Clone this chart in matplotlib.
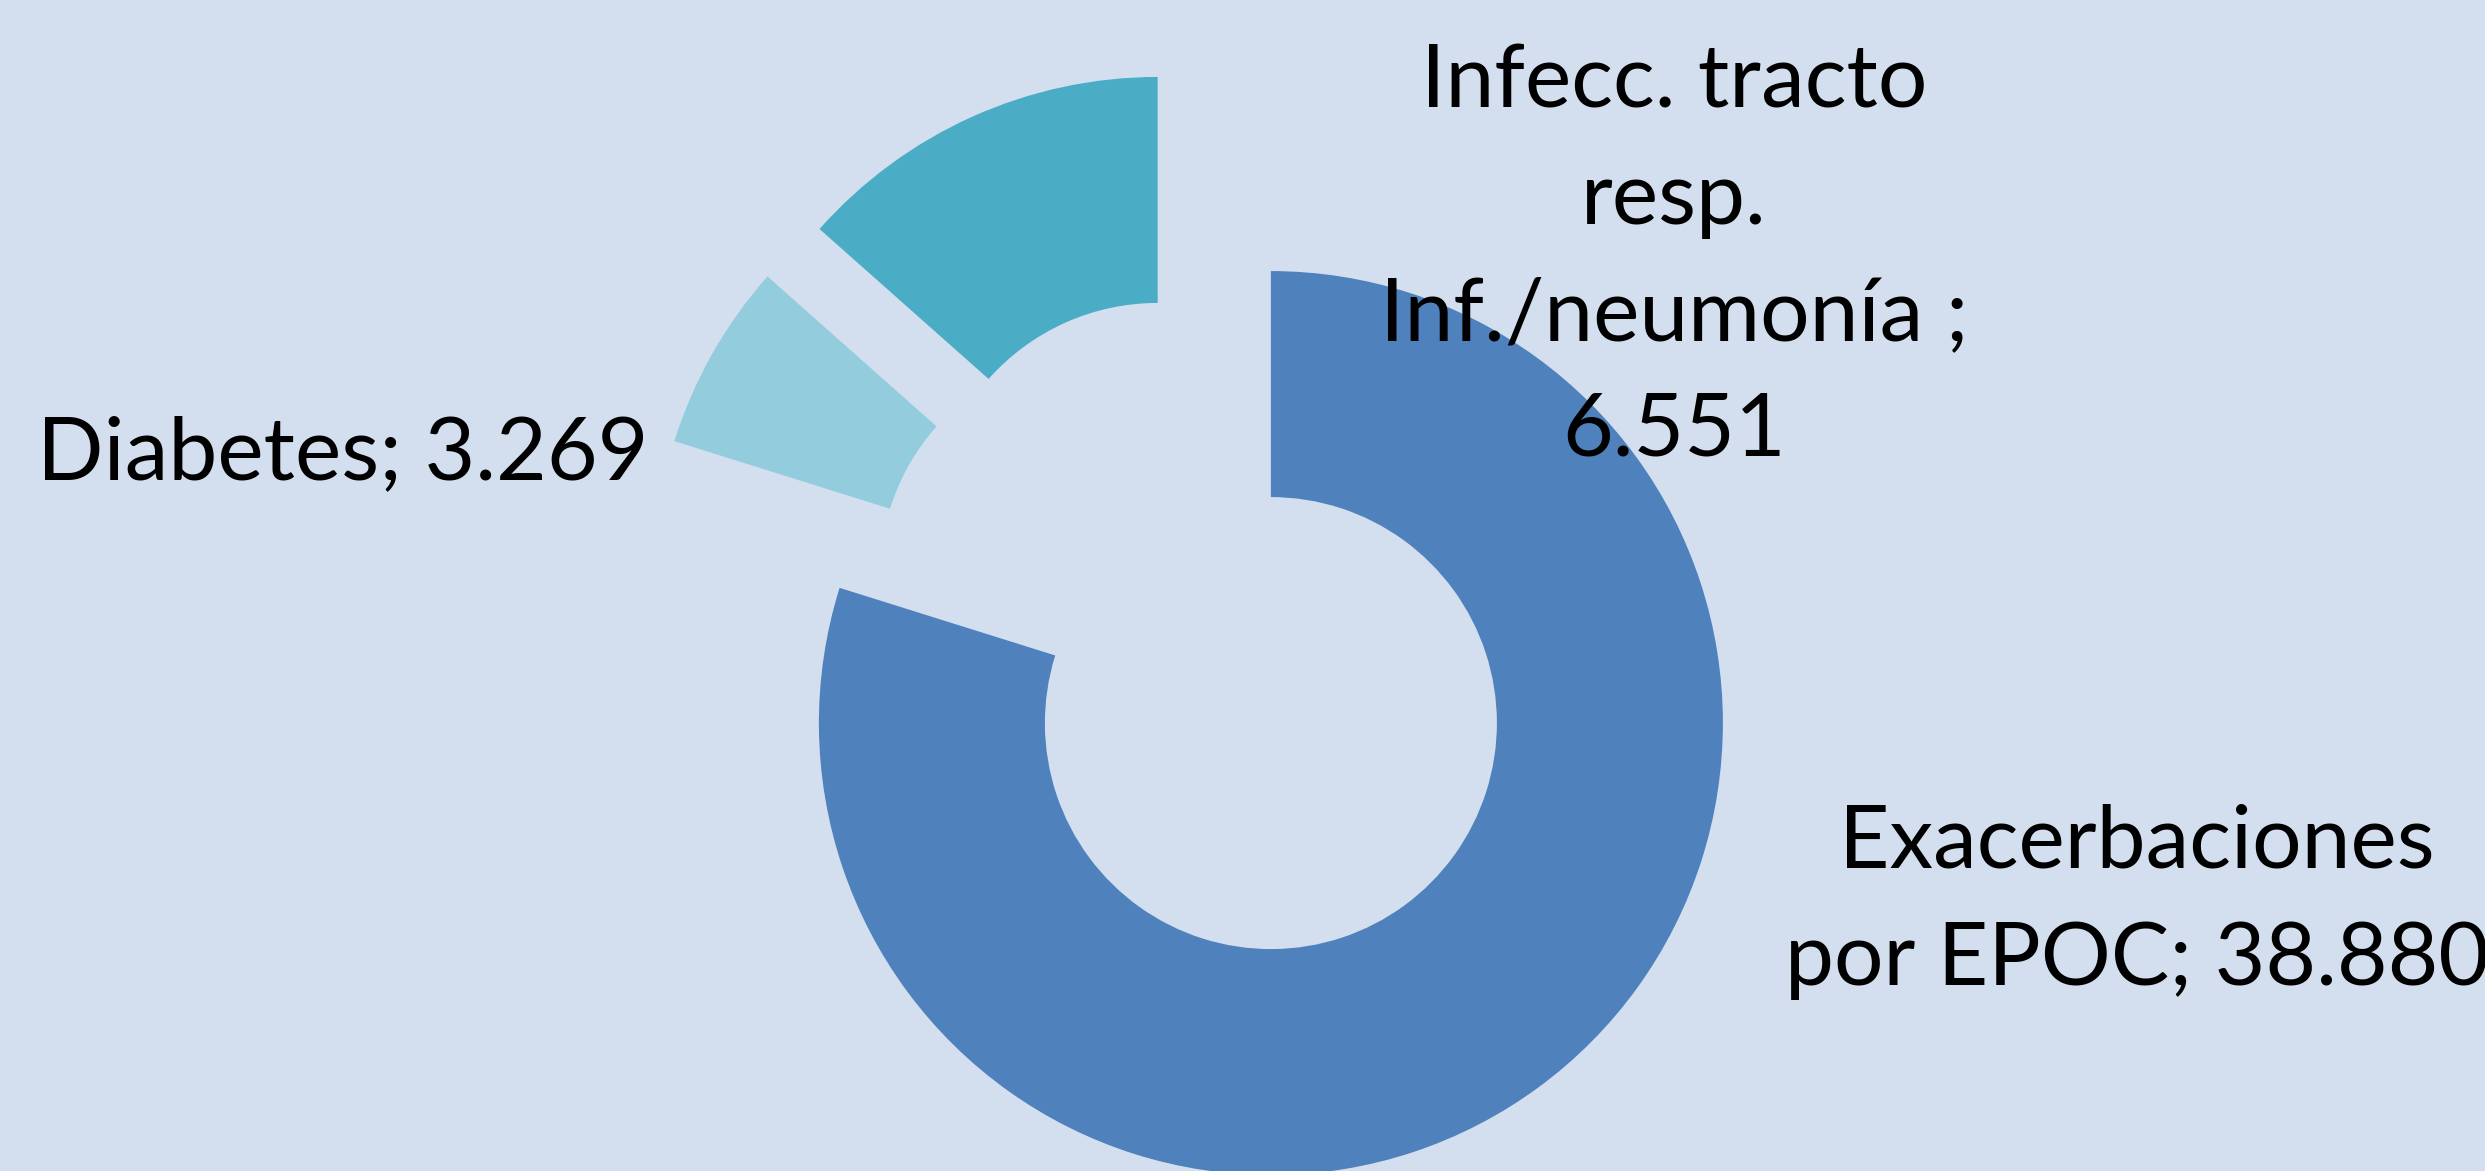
import matplotlib.pyplot as plt

categories = ["Exacerbaciones\npor EPOC", "Diabetes", "Infecc. tracto\nresp.\nInf./neumonía"]
values = [38880, 3269, 6551]
separators = ["; ", "; ", " ;\n"]
colors = ["#4F81BD", "#93CDDD", "#4BACC6"]

bg = "#D3DFEE"
W, H = 2485, 1171

fig = plt.figure(figsize=(W / 100, H / 100), dpi=100, facecolor=bg)
ax = fig.add_axes([0, 0, 1, 1])
ax.set_facecolor(bg)

ax.pie(
    values,
    colors=colors,
    startangle=90,
    counterclock=False,
    explode=[0.25] * len(values),
    radius=1.0,
    wedgeprops=dict(width=0.5, edgecolor="none"),
)

# pie centre sits at (1204, 632) px, radius 452 px
cx, cy, r = 1204, 632, 452
ax.set_xlim(-cx / r, (W - cx) / r)
ax.set_ylim(-(H - cy) / r, cy / r)
ax.set_aspect("equal")
ax.axis("off")

font = dict(family=["Lato", "DejaVu Sans"], fontsize=63, color="black",
            ha="center", va="baseline")

# label anchors: centre x, first baseline y (px), line step
label_pos = [(2137, 868, 117), (343, 479, 116), (1674, 108, 116)]
for cat, v, sep, (px, py, step) in zip(categories, values, separators, label_pos):
    text = cat + sep + f"{v:,}".replace(",", ".")
    for i, line in enumerate(text.split("\n")):
        fig.text(px / W, 1 - (py + i * step) / H, line, **font)

fig.savefig("out.png", dpi=100, facecolor=bg)
